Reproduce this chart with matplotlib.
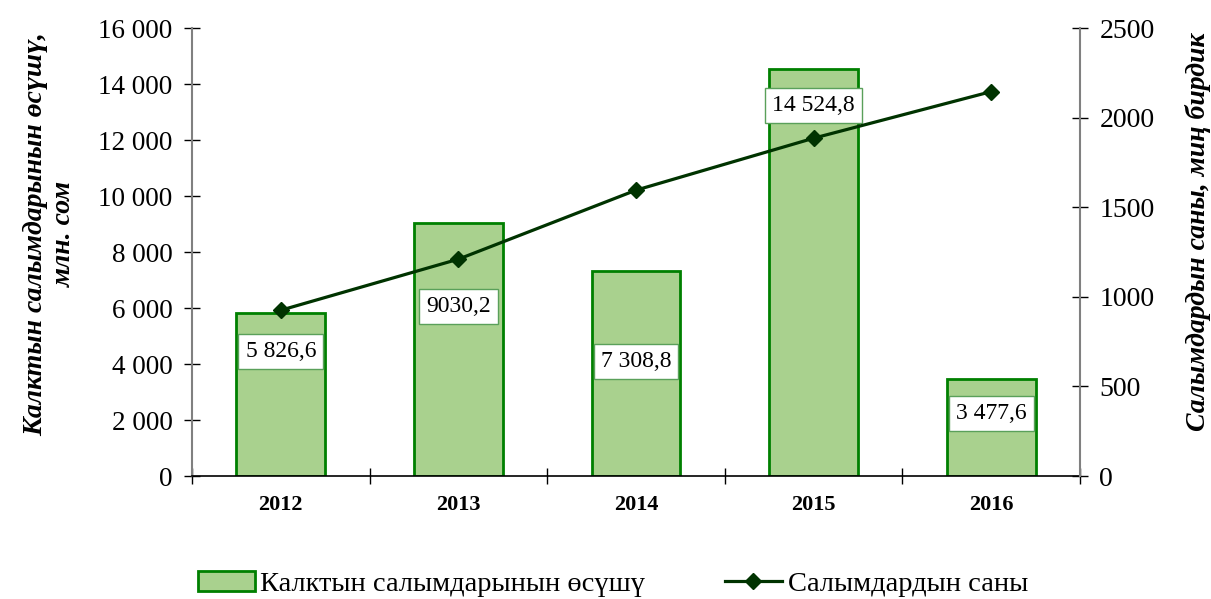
import numpy as np
import matplotlib
matplotlib.use("Agg")
import matplotlib.pyplot as plt
from matplotlib.ticker import FuncFormatter

plt.rcParams['font.family'] = ['Liberation Serif', 'DejaVu Serif']

# data
years = ['2012', '2013', '2014', '2015', '2016']
deposits_growth = [5826.6, 9030.2, 7308.8, 14524.8, 3477.6]   # млн. сом
deposit_labels = ['5 826,6', '9030,2', '7 308,8', '14 524,8', '3 477,6']
deposits_count = [925, 1210, 1595, 1885, 2145]                # миң бирдик

# label offsets below bar tops (points), as in the source
label_drop = [-28, -60, -65, -26, -25]

bar_fill = '#a9d18e'
bar_edge = '#008000'
line_col = '#003300'
axis_gray = '#808080'

fig = plt.figure(figsize=(12.11, 5.99), dpi=100)
ax = fig.add_axes([192 / 1211, 1 - 476 / 599, 888 / 1211, 448 / 599])
x = np.arange(len(years))

bars = ax.bar(x, deposits_growth, width=0.5, color=bar_fill, edgecolor=bar_edge,
              linewidth=2, label='Калктын салымдарынын өсүшү', zorder=2)
ax.set_xlim(-0.5, len(years) - 0.5)
ax.set_ylim(0, 16000)
ax.set_yticks(np.arange(0, 16001, 2000))
ax.yaxis.set_major_formatter(FuncFormatter(lambda v, p: f'{int(v):,}'.replace(',', ' ')))
ax.tick_params(axis='y', direction='inout', length=12, width=1, color='black',
               labelsize=19.5, pad=8)
ax.set_xticks(x)
ax.set_xticklabels(years, fontsize=16, fontweight='bold')
ax.tick_params(axis='x', length=0, pad=14)
ax.set_xticks(np.arange(-0.5, len(years)), minor=True)
ax.tick_params(axis='x', which='minor', direction='inout', length=12, width=1)
for s in ['top', 'right']:
    ax.spines[s].set_visible(False)
ax.spines['left'].set_color(axis_gray)
ax.spines['left'].set_linewidth(1.5)
ax.spines['bottom'].set_linewidth(1.2)
ax.set_ylabel('Калктын салымдарынын өсүшү,\nмлн. сом', fontsize=20,
              fontweight='bold', fontstyle='italic')
ax.yaxis.set_label_coords(-0.13, 0.54)

for xi, val, lab, dy in zip(x, deposits_growth, deposit_labels, label_drop):
    ax.annotate(lab, (xi, val), xytext=(0, dy), textcoords='offset points',
                ha='center', va='center', fontsize=17, zorder=5,
                bbox=dict(boxstyle='square,pad=0.3', fc='white', ec='#5aa05a', lw=1))

ax2 = ax.twinx()
ax2.plot(x, deposits_count, color=line_col, lw=2.3, marker='D', markersize=8,
         label='Салымдардын саны', zorder=4)
ax2.set_ylim(0, 2500)
ax2.set_yticks(np.arange(0, 2501, 500))
ax2.tick_params(axis='y', direction='inout', length=12, width=1, labelsize=20, pad=8)
for s in ['top', 'left', 'bottom']:
    ax2.spines[s].set_visible(False)
ax2.spines['right'].set_color(axis_gray)
ax2.spines['right'].set_linewidth(1.5)
ax2.set_ylabel('Салымдардын саны, миң бирдик', fontsize=20, fontweight='bold',
               fontstyle='italic')
ax2.yaxis.set_label_coords(1.118, 0.545)

h1, l1 = ax.get_legend_handles_labels()
h2, l2 = ax2.get_legend_handles_labels()
fig.legend(h1 + h2, l1 + l2, loc='lower center', bbox_to_anchor=(0.506, -0.04),
           ncol=2, frameon=False, fontsize=20.5, handlelength=2.0,
           handletextpad=0.2, columnspacing=2.8)

fig.savefig('out.png', dpi=100)
